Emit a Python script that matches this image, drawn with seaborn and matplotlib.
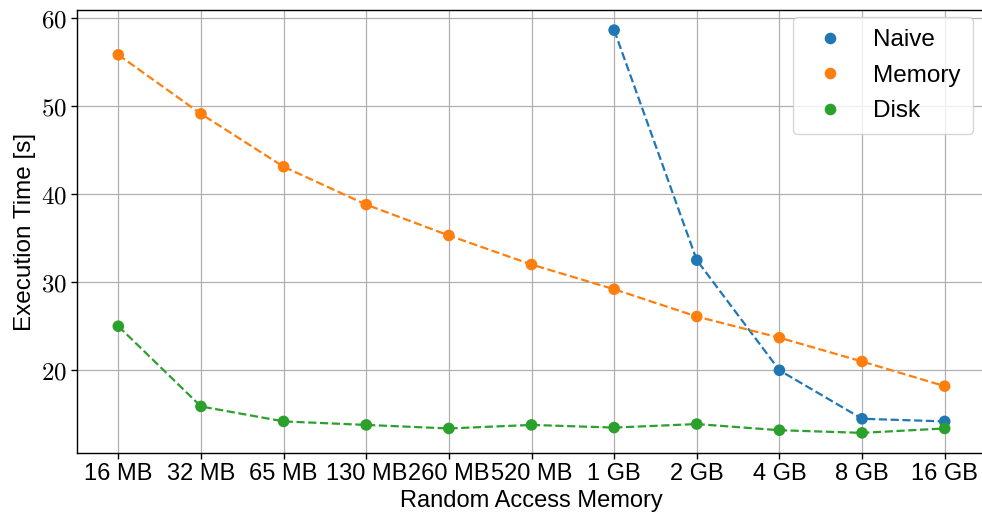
import numpy as np
import pandas as pd
import matplotlib
matplotlib.use("Agg")
import matplotlib.pyplot as plt
import seaborn as sns
from matplotlib.ticker import FuncFormatter, FixedLocator

ram_labels = ["16 MB", "32 MB", "65 MB", "130 MB", "260 MB", "520 MB",
              "1 GB", "2 GB", "4 GB", "8 GB", "16 GB"]
naive_labels = ["1 GB", "2 GB", "4 GB", "8 GB", "16 GB"]
naive_vals = [58.6, 32.5, 20.0, 14.5, 14.2]
memory_vals = [55.8, 49.1, 43.1, 38.8, 35.3, 32.0, 29.2, 26.1, 23.7, 21.0, 18.2]
disk_vals = [25.0, 15.9, 14.2, 13.8, 13.4, 13.8, 13.5, 13.9, 13.2, 12.9, 13.4]
series_names = ["Naive", "Memory", "Disk"]
y_ticks = [20, 30, 40, 50, 60]

rows = []
for lab, v in zip(naive_labels, naive_vals):
    rows.append(("Naive", lab, v))
for lab, v in zip(ram_labels, memory_vals):
    rows.append(("Memory", lab, v))
for lab, v in zip(ram_labels, disk_vals):
    rows.append(("Disk", lab, v))
df = pd.DataFrame(rows, columns=["series", "ram", "time"])
df["pos"] = df["ram"].map({l: i for i, l in enumerate(ram_labels)})

sns.set_style("ticks")
plt.rcParams["font.family"] = ["Liberation Sans", "DejaVu Sans"]
plt.rcParams["mathtext.fontset"] = "cm"
plt.rcParams["text.color"] = "black"
plt.rcParams["axes.labelcolor"] = "black"
plt.rcParams["xtick.color"] = "black"
plt.rcParams["ytick.color"] = "black"

palette = dict(zip(series_names, sns.color_palette("tab10", 3)))

fig = plt.figure(figsize=(9.82, 5.18), dpi=100)
ax = fig.add_axes([77 / 982, 1 - 453 / 518, 909 / 982, 443 / 518])

sns.lineplot(data=df, x="pos", y="time", hue="series", hue_order=series_names,
             palette=palette, linestyle="--", linewidth=1.6, legend=False,
             sort=False, ax=ax)
sns.scatterplot(data=df, x="pos", y="time", hue="series", hue_order=series_names,
                palette=palette, s=70, edgecolor="none", ax=ax, zorder=3)

ax.set_xticks(range(len(ram_labels)))
ax.set_xticklabels(ram_labels, fontsize=17)
ax.yaxis.set_major_locator(FixedLocator(y_ticks))
ax.yaxis.set_major_formatter(FuncFormatter(lambda v, p: f"${int(v)}$"))
ax.tick_params(axis="y", labelsize=18)
ax.tick_params(axis="both", length=4, width=1, color="black")
ax.set_xlabel("Random Access Memory", fontsize=17, labelpad=3)
ax.set_ylabel("Execution Time [s]", fontsize=17.5, labelpad=3)
ax.grid(True, color="#b0b0b0", linewidth=0.9)
ax.set_axisbelow(True)
for sp in ax.spines.values():
    sp.set_color("black")
    sp.set_linewidth(1.0)
ax.set_xlim(-0.5, len(ram_labels) - 0.5)

leg = ax.legend(loc="upper right", fontsize=17.5, frameon=True, markerscale=1.0,
                borderpad=0.5, handletextpad=0.8, labelspacing=0.55,
                borderaxespad=0, bbox_to_anchor=(0.9857, 0.984))
leg.get_frame().set_edgecolor("#cccccc")
leg.get_frame().set_alpha(0.8)

fig.savefig("out.png", dpi=100)
